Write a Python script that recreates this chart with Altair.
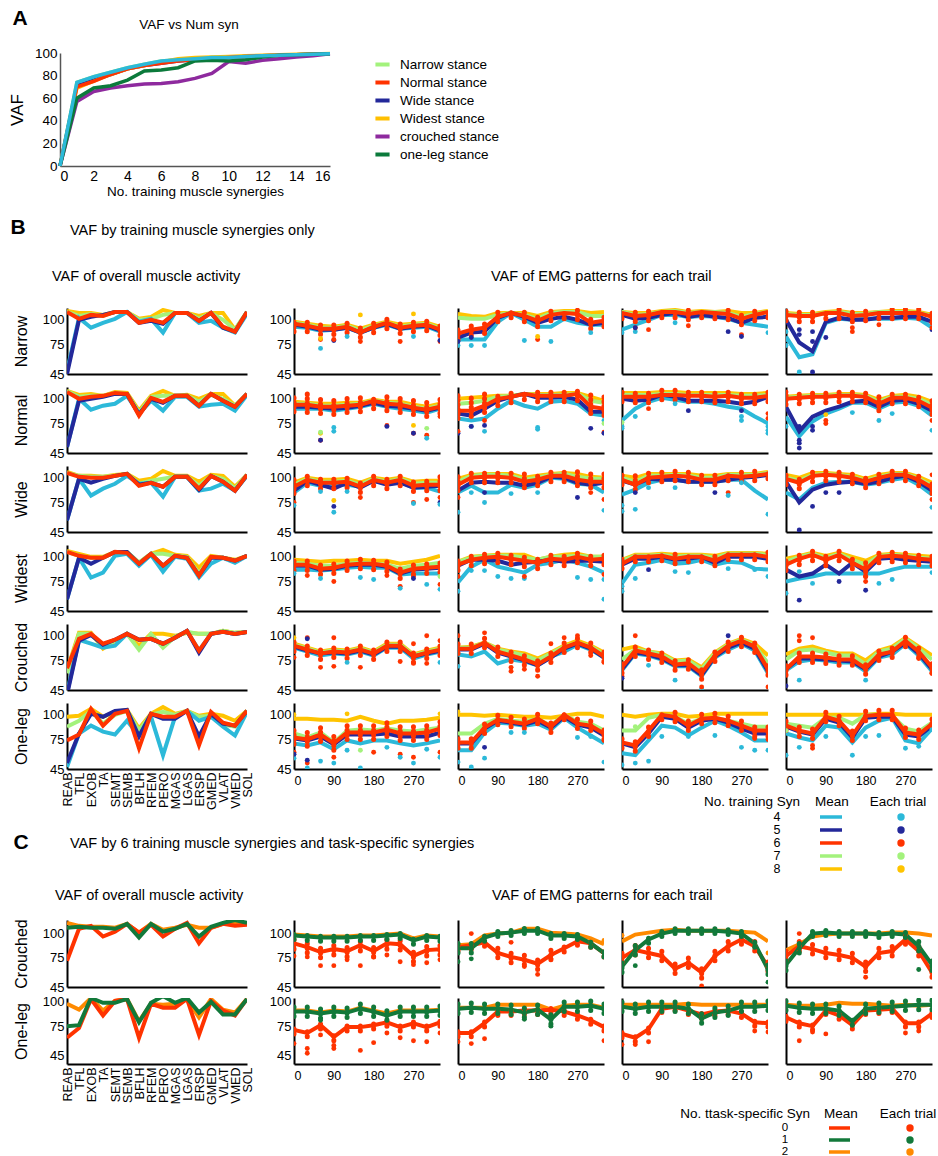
import altair as alt
import pandas as pd

FONT = "Liberation Sans"

# ---------------- shared categories ----------------
MUSCLES = ["REAB", "TFL", "EXOB", "TA", "SEMT", "SEMB", "BFLH", "RFEM",
           "PERO", "MGAS", "LGAS", "ERSP", "GMED", "VLAT", "VMED", "SOL"]
DIRS = [0, 30, 60, 90, 120, 150, 180, 210, 240, 270, 300, 330]
DIR_TICKS = [0, 90, 180, 270]
VAF_TICKS = [45, 75, 100]
STANCES = ["Narrow", "Normal", "Wide", "Widest", "Crouched", "One-leg"]
TASK_STANCES = ["Crouched", "One-leg"]

TRAIN_SYN = [4, 5, 6, 7, 8]
TRAIN_COLORS = {4: "#2cb9d9", 5: "#23289a", 6: "#ff3300", 7: "#a3f27c", 8: "#ffc400"}
TRAIN_DRAW = [8, 7, 4, 5, 6]
TASK_SYN = [0, 1, 2]
TASK_COLORS = {0: "#ff3300", 1: "#12793a", 2: "#ff8a00"}
TASK_DRAW = [2, 0, 1]

# ---------------- panel A ----------------
A_NSYN = list(range(17))
A_STANCES = ["Narrow stance", "Normal stance", "Wide stance", "Widest stance",
             "crouched stance", "one-leg stance"]
A_COLORS = ["#a3f27c", "#ff3300", "#23289a", "#ffbf00", "#8e2a9e", "#0b7a3b"]
A_DRAW = ["Narrow stance", "Wide stance", "Widest stance", "Normal stance",
          "crouched stance", "one-leg stance"]
A_VAF = {
    "Narrow stance":  [0, 74, 79, 83, 87, 90, 93, 94, 95, 96, 96, 97, 97.6, 98, 98.5, 99, 99.4],
    "Normal stance":  [0, 70, 75, 81, 86, 89, 91, 93, 94, 95, 96, 97, 97.5, 98, 98.5, 99, 99.4],
    "Wide stance":    [0, 71, 76, 81, 86, 89, 91, 93, 94, 95, 96, 97, 97.5, 98, 98.5, 99, 99.4],
    "Widest stance":  [0, 69, 75, 81, 86, 89, 92, 95, 96, 96.5, 97, 97.5, 98, 98.5, 99, 99.2, 99.5],
    "crouched stance": [0, 57, 66, 69, 71, 72.5, 73, 74.5, 77.5, 82, 92.5, 91, 93.5, 95, 96.5, 97.6, 99.4],
    "one-leg stance": [0, 60, 69, 71, 76, 84, 85, 87, 93, 93.5, 93, 94, 96.5, 98, 98.5, 99, 99.4],
}
A_OVERLAY_COLOR = "#2cb9d9"

# ---------------- panel B: overall muscle activity (per muscle) ----------------
B_OVERALL = {
    "Narrow": {
        4: [48, 102, 92, 97, 101, 108, 98, 101, 87, 107, 107, 97, 99, 92, 87, 106],
        5: [45, 100, 103, 105, 108, 108, 97, 99, 96, 107, 107, 99, 107, 92, 88, 108],
        6: [108, 101, 105, 104, 108, 108, 97, 100, 97, 107, 107, 99, 107, 93, 88, 108],
        7: [108, 104, 106, 104, 108, 108, 100, 101, 105, 107, 107, 101, 107, 100, 90, 108],
        8: [109, 107, 107, 105, 108, 108, 101, 103, 110, 107, 107, 104, 107, 107, 90, 108]},
    "Normal": {
        4: [51, 100, 89, 93, 95, 103, 85, 98, 88, 102, 102, 92, 94, 95, 88, 104],
        5: [51, 98, 100, 102, 105, 105, 84, 100, 96, 103, 103, 93, 105, 98, 92, 105],
        6: [107, 100, 102, 103, 106, 105, 83, 101, 97, 103, 103, 93, 105, 98, 92, 105],
        7: [108, 102, 103, 103, 106, 105, 86, 102, 103, 103, 103, 97, 104, 100, 93, 105],
        8: [108, 104, 105, 103, 107, 106, 88, 103, 108, 103, 104, 100, 105, 105, 93, 105]},
    "Wide": {
        4: [57, 99, 82, 89, 94, 102, 94, 95, 81, 101, 101, 87, 89, 94, 87, 102],
        5: [57, 99, 95, 99, 102, 104, 93, 95, 91, 101, 101, 88, 102, 96, 87, 103],
        6: [105, 101, 100, 100, 102, 104, 92, 95, 91, 101, 101, 89, 102, 96, 87, 103],
        7: [105, 102, 101, 101, 102, 104, 94, 97, 99, 101, 101, 92, 102, 99, 89, 103],
        8: [106, 102, 102, 101, 103, 104, 97, 99, 107, 102, 102, 96, 103, 102, 91, 103]},
    "Widest": {
        4: [57, 99, 79, 84, 101, 103, 91, 102, 85, 100, 98, 79, 93, 99, 94, 101],
        5: [57, 99, 93, 99, 105, 105, 93, 103, 91, 101, 99, 81, 99, 99, 96, 101],
        6: [105, 101, 99, 99, 105, 104, 93, 103, 91, 101, 99, 81, 100, 99, 96, 101],
        7: [105, 101, 99, 99, 105, 105, 94, 103, 103, 101, 100, 83, 100, 99, 96, 101],
        8: [106, 103, 100, 100, 105, 105, 94, 103, 107, 102, 101, 89, 101, 99, 97, 101]},
    "Crouched": {
        4: [42, 96, 92, 88, 90, 102, 96, 97, 92, 98, 105, 85, 102, 104, 102, 104],
        5: [40, 95, 101, 91, 96, 102, 96, 97, 92, 98, 105, 83, 102, 104, 102, 104],
        6: [67, 97, 102, 92, 96, 102, 96, 97, 92, 98, 105, 85, 102, 104, 102, 104],
        7: [62, 102, 102, 89, 95, 102, 86, 102, 88, 99, 104, 102, 102, 105, 103, 104],
        8: [65, 103, 103, 87, 95, 102, 90, 102, 102, 100, 103, 102, 102, 105, 103, 104]},
    "One-leg": {
        4: [47, 81, 89, 83, 80, 94, 79, 98, 59, 98, 104, 94, 98, 88, 79, 103],
        5: [51, 81, 101, 98, 104, 105, 78, 101, 96, 96, 104, 78, 101, 91, 89, 104],
        6: [74, 80, 106, 89, 101, 104, 66, 101, 98, 98, 104, 69, 103, 92, 89, 104],
        7: [88, 94, 104, 91, 100, 104, 84, 100, 103, 100, 104, 98, 99, 90, 88, 104],
        8: [98, 99, 106, 98, 103, 105, 86, 101, 108, 101, 104, 99, 101, 99, 94, 104]},
}

# ---------------- panel B: EMG patterns per direction (4 panels per stance) ----------------
B_EMG = {
    "Narrow": [
        {4: [93, 92, 89, 90, 92, 87, 92, 95, 91, 92, 93, 88],
         5: [95, 93, 90, 90, 92, 87, 92, 96, 91, 93, 94, 89],
         6: [96, 94, 91, 91, 93, 87, 93, 97, 92, 94, 95, 90],
         7: [97, 95, 92, 92, 94, 89, 94, 97, 93, 95, 96, 91],
         8: [98, 96, 94, 93, 95, 91, 95, 98, 95, 96, 97, 93]},
        {4: [80, 80, 80, 98, 107, 100, 93, 93, 101, 97, 95, 95],
         5: [82, 87, 88, 102, 107, 103, 97, 101, 103, 100, 95, 97],
         6: [86, 90, 92, 103, 107, 104, 99, 105, 107, 106, 97, 99],
         7: [102, 101, 101, 105, 107, 105, 101, 107, 108, 108, 104, 104],
         8: [106, 104, 103, 107, 107, 107, 104, 108, 109, 109, 107, 108]},
        {4: [90, 95, 100, 105, 105, 103, 104, 103, 101, 97, 95, 93],
         5: [105, 101, 102, 105, 107, 103, 105, 103, 102, 97, 102, 103],
         6: [107, 104, 105, 108, 108, 106, 108, 107, 106, 101, 105, 108],
         7: [108, 105, 106, 108, 109, 107, 108, 108, 107, 103, 106, 108],
         8: [108, 107, 107, 109, 110, 108, 109, 108, 109, 107, 107, 109]},
        {4: [83, 62, 65, 97, 101, 100, 101, 101, 101, 102, 101, 92],
         5: [100, 77, 68, 98, 102, 100, 100, 102, 102, 103, 103, 98],
         6: [105, 104, 104, 107, 107, 104, 105, 107, 107, 107, 107, 103],
         7: [106, 105, 105, 107, 108, 106, 106, 108, 108, 108, 107, 104],
         8: [107, 106, 106, 108, 109, 107, 107, 108, 109, 109, 108, 105]}],
    "Normal": [
        {4: [90, 90, 90, 88, 90, 92, 95, 92, 90, 88, 86, 90],
         5: [92, 92, 91, 90, 91, 93, 96, 93, 92, 90, 88, 91],
         6: [94, 94, 92, 92, 93, 94, 98, 95, 94, 91, 89, 92],
         7: [95, 95, 93, 93, 94, 95, 98, 96, 95, 92, 90, 93],
         8: [97, 96, 95, 95, 96, 96, 99, 97, 97, 94, 92, 95]},
        {4: [80, 78, 80, 90, 98, 93, 90, 97, 98, 95, 85, 83],
         5: [85, 83, 90, 98, 102, 105, 101, 101, 102, 99, 87, 87],
         6: [88, 88, 93, 100, 102, 105, 103, 103, 103, 105, 92, 90],
         7: [95, 96, 98, 102, 103, 105, 104, 104, 104, 105, 98, 96],
         8: [100, 101, 102, 103, 103, 105, 105, 105, 106, 106, 102, 98]},
        {4: [78, 90, 97, 101, 99, 97, 97, 95, 92, 90, 82, 75],
         5: [100, 98, 99, 104, 102, 98, 98, 98, 97, 95, 97, 102],
         6: [102, 102, 102, 104, 104, 103, 103, 102, 103, 101, 101, 103],
         7: [104, 104, 104, 105, 105, 104, 104, 104, 104, 103, 103, 104],
         8: [106, 106, 106, 107, 107, 106, 106, 106, 106, 105, 105, 106]},
        {4: [82, 62, 77, 85, 90, 96, 96, 90, 96, 97, 93, 83],
         5: [92, 67, 82, 88, 92, 97, 98, 92, 98, 99, 95, 88],
         6: [100, 101, 102, 102, 103, 103, 102, 95, 101, 101, 98, 91],
         7: [101, 102, 103, 103, 104, 104, 103, 97, 102, 102, 100, 94],
         8: [102, 103, 104, 104, 105, 105, 104, 99, 103, 104, 102, 97]}],
    "Wide": [
        {4: [85, 95, 92, 92, 93, 91, 97, 94, 96, 90, 90, 86],
         5: [87, 97, 93, 89, 95, 90, 97, 93, 95, 90, 91, 92],
         6: [91, 98, 95, 95, 96, 91, 98, 95, 98, 92, 93, 93],
         7: [93, 99, 96, 96, 97, 93, 99, 96, 99, 94, 95, 95],
         8: [95, 100, 98, 98, 99, 95, 100, 98, 100, 96, 97, 97]},
        {4: [85, 92, 85, 85, 93, 90, 93, 100, 99, 94, 93, 85],
         5: [87, 95, 96, 95, 95, 92, 95, 101, 100, 95, 93, 95],
         6: [93, 100, 101, 101, 100, 96, 98, 102, 102, 98, 96, 96],
         7: [96, 102, 103, 103, 102, 98, 100, 103, 104, 101, 99, 99],
         8: [99, 103, 104, 104, 104, 100, 102, 104, 105, 104, 101, 100]},
        {4: [83, 88, 95, 98, 98, 96, 96, 96, 98, 98, 87, 78],
         5: [97, 93, 99, 98, 98, 96, 96, 96, 98, 100, 101, 103],
         6: [98, 93, 100, 101, 102, 101, 98, 98, 102, 101, 102, 104],
         7: [100, 96, 102, 102, 103, 102, 100, 100, 103, 103, 103, 105],
         8: [102, 100, 104, 104, 104, 104, 102, 102, 104, 104, 104, 106]},
        {4: [85, 78, 90, 95, 96, 96, 93, 95, 98, 100, 93, 83],
         5: [96, 75, 88, 93, 95, 96, 94, 96, 100, 102, 96, 87],
         6: [99, 95, 102, 103, 102, 100, 96, 100, 103, 103, 98, 90],
         7: [100, 97, 103, 104, 103, 101, 97, 101, 104, 104, 99, 92],
         8: [103, 100, 105, 105, 104, 103, 99, 103, 105, 105, 101, 95]}],
    "Widest": [
        {4: [87, 87, 86, 87, 89, 90, 89, 89, 82, 83, 83, 83],
         5: [91, 91, 87, 88, 91, 92, 92, 90, 83, 87, 88, 89],
         6: [92, 92, 88, 89, 92, 93, 93, 91, 84, 88, 89, 90],
         7: [94, 93, 91, 91, 93, 94, 93, 92, 88, 91, 92, 94],
         8: [97, 96, 95, 96, 96, 97, 96, 96, 93, 95, 97, 101]},
        {4: [74, 90, 97, 90, 87, 84, 92, 94, 97, 94, 90, 84],
         5: [91, 97, 97, 96, 92, 94, 95, 97, 95, 96, 96, 95],
         6: [92, 97, 99, 100, 98, 96, 94, 98, 97, 100, 97, 98],
         7: [95, 99, 101, 101, 101, 99, 97, 100, 100, 101, 100, 100],
         8: [95, 100, 101, 102, 102, 102, 97, 100, 102, 103, 100, 100]},
        {4: [73, 92, 94, 97, 93, 94, 97, 92, 95, 94, 88, 87],
         5: [92, 98, 98, 100, 97, 98, 100, 94, 100, 100, 100, 98],
         6: [93, 100, 100, 101, 98, 100, 100, 96, 102, 102, 102, 100],
         7: [96, 101, 101, 102, 100, 101, 101, 99, 103, 103, 103, 102],
         8: [97, 102, 102, 103, 102, 102, 102, 101, 104, 104, 104, 103]},
        {4: [75, 78, 80, 83, 83, 83, 83, 83, 87, 90, 90, 90],
         5: [87, 80, 83, 92, 83, 94, 85, 98, 99, 97, 96, 95],
         6: [92, 98, 102, 97, 102, 94, 87, 100, 101, 100, 98, 97],
         7: [95, 100, 103, 99, 103, 97, 92, 101, 102, 101, 99, 98],
         8: [98, 101, 104, 101, 104, 100, 96, 102, 103, 102, 101, 100]}],
    "Crouched": [
        {4: [88, 84, 80, 82, 81, 84, 80, 88, 88, 77, 81, 84],
         5: [89, 85, 82, 83, 82, 85, 81, 89, 89, 79, 82, 85],
         6: [90, 86, 82, 84, 83, 86, 82, 90, 90, 79, 83, 86],
         7: [91, 87, 83, 85, 84, 87, 83, 91, 91, 80, 84, 87],
         8: [92, 88, 84, 86, 85, 88, 84, 92, 92, 81, 85, 88]},
        {4: [81, 79, 84, 72, 76, 74, 70, 79, 84, 91, 86, 78],
         5: [86, 86, 92, 83, 79, 75, 70, 78, 87, 92, 87, 78],
         6: [87, 87, 93, 84, 80, 76, 71, 79, 88, 93, 88, 79],
         7: [88, 88, 93, 86, 83, 80, 75, 82, 89, 93, 89, 81],
         8: [88, 89, 93, 87, 84, 82, 77, 83, 90, 95, 90, 83]},
        {4: [65, 82, 80, 76, 69, 69, 59, 78, 86, 92, 85, 62],
         5: [66, 83, 81, 77, 70, 70, 60, 79, 88, 93, 87, 64],
         6: [68, 85, 82, 79, 71, 72, 62, 80, 90, 95, 89, 66],
         7: [76, 86, 84, 81, 74, 75, 66, 82, 91, 96, 90, 72],
         8: [86, 89, 84, 82, 75, 76, 68, 83, 92, 97, 92, 80]},
        {4: [65, 74, 76, 75, 73, 73, 64, 78, 81, 92, 80, 64],
         5: [66, 77, 77, 76, 75, 74, 66, 79, 84, 93, 82, 66],
         6: [66, 79, 79, 78, 76, 76, 67, 81, 84, 95, 84, 68],
         7: [76, 85, 86, 83, 80, 80, 71, 84, 87, 97, 87, 76],
         8: [81, 87, 89, 85, 82, 82, 75, 85, 89, 98, 89, 80]}],
    "One-leg": [
        {4: [71, 69, 72, 65, 74, 71, 74, 74, 71, 69, 71, 74],
         5: [76, 74, 78, 70, 80, 80, 80, 81, 78, 78, 78, 82],
         6: [77, 75, 80, 71, 82, 82, 82, 85, 81, 81, 82, 86],
         7: [81, 77, 82, 72, 84, 85, 84, 86, 84, 83, 85, 87],
         8: [96, 96, 95, 95, 94, 98, 94, 91, 94, 94, 95, 97]},
        {4: [64, 64, 82, 92, 91, 89, 91, 85, 97, 87, 79, 71],
         5: [71, 71, 86, 94, 92, 90, 94, 87, 98, 90, 87, 79],
         6: [72, 72, 87, 95, 93, 91, 96, 88, 100, 91, 89, 81],
         7: [81, 81, 91, 96, 94, 93, 96, 89, 100, 93, 91, 84],
         8: [100, 100, 99, 100, 99, 98, 98, 97, 99, 101, 101, 98]},
        {4: [61, 59, 74, 89, 87, 79, 87, 94, 89, 82, 74, 74],
         5: [71, 67, 81, 98, 96, 87, 94, 96, 92, 86, 81, 81],
         6: [72, 69, 84, 100, 98, 89, 96, 97, 94, 89, 84, 84],
         7: [84, 84, 97, 100, 98, 91, 96, 97, 94, 91, 88, 88],
         8: [100, 98, 100, 101, 101, 98, 99, 101, 101, 101, 101, 101]},
        {4: [81, 77, 74, 89, 87, 72, 87, 94, 97, 74, 71, 86],
         5: [88, 83, 80, 96, 92, 77, 97, 98, 98, 80, 78, 89],
         6: [89, 84, 81, 98, 94, 79, 99, 100, 100, 82, 80, 91],
         7: [91, 89, 87, 97, 97, 91, 100, 100, 99, 86, 83, 92],
         8: [100, 100, 100, 100, 100, 100, 100, 101, 101, 100, 100, 100]}],
}

# range of the 6-synergy trials at each direction (lowest, highest)
B_TRIAL_LO = {
    "Narrow": [[88, 88, 85, 85, 87, 82, 87, 91, 86, 88, 89, 84],
               [80, 84, 86, 98, 102, 98, 93, 99, 101, 100, 91, 93],
               [101, 98, 99, 102, 102, 100, 102, 101, 100, 95, 99, 102],
               [99, 98, 98, 101, 101, 98, 99, 101, 101, 101, 101, 97]],
    "Normal": [[87, 86, 85, 84, 86, 87, 90, 88, 86, 84, 82, 85],
               [80, 82, 86, 93, 96, 99, 97, 97, 97, 98, 85, 83],
               [97, 96, 96, 99, 99, 97, 97, 96, 97, 95, 95, 97],
               [94, 95, 96, 96, 97, 97, 96, 88, 95, 95, 92, 84]],
    "Wide": [[84, 92, 89, 89, 90, 85, 92, 89, 92, 86, 87, 87],
             [87, 95, 95, 95, 95, 90, 92, 96, 96, 92, 90, 90],
             [93, 88, 95, 96, 97, 96, 93, 93, 97, 96, 97, 99],
             [93, 89, 96, 97, 96, 94, 90, 94, 97, 97, 92, 84]],
    "Widest": [[86, 86, 82, 83, 86, 88, 87, 85, 78, 82, 83, 84],
               [86, 91, 93, 94, 92, 90, 88, 92, 91, 94, 91, 92],
               [88, 95, 95, 96, 93, 95, 95, 91, 97, 97, 97, 95],
               [86, 92, 96, 91, 96, 88, 80, 94, 95, 94, 92, 91]],
    "Crouched": [[84, 80, 76, 78, 77, 80, 76, 84, 84, 73, 77, 80],
                 [82, 82, 88, 79, 74, 70, 65, 73, 83, 88, 83, 74],
                 [62, 79, 76, 73, 65, 66, 56, 74, 84, 89, 83, 60],
                 [60, 73, 73, 72, 70, 70, 61, 75, 78, 89, 78, 62]],
    "One-leg": [[70, 68, 73, 64, 75, 75, 75, 78, 74, 74, 75, 79],
                [66, 66, 81, 90, 88, 86, 91, 82, 95, 86, 84, 75],
                [66, 63, 78, 95, 93, 84, 91, 92, 89, 84, 78, 78],
                [84, 78, 76, 93, 89, 74, 94, 95, 95, 77, 75, 86]],
}
B_TRIAL_HI = {
    "Narrow": [[100, 99, 97, 97, 99, 93, 99, 102, 98, 100, 100, 96],
               [92, 96, 98, 108, 110, 109, 105, 110, 110, 110, 103, 105],
               [110, 110, 110, 111, 111, 110, 111, 110, 110, 107, 110, 111],
               [110, 110, 110, 110, 111, 110, 110, 110, 111, 111, 111, 109]],
    "Normal": [[102, 105, 101, 100, 101, 101, 103, 103, 101, 101, 98, 101],
               [103, 104, 105, 106, 107, 108, 108, 108, 108, 108, 106, 102],
               [108, 107, 108, 109, 109, 108, 108, 107, 108, 107, 107, 108],
               [107, 107, 108, 108, 108, 108, 108, 102, 107, 107, 105, 98]],
    "Wide": [[98, 103, 101, 102, 102, 97, 104, 101, 103, 99, 100, 103],
             [104, 106, 107, 107, 106, 104, 105, 107, 108, 107, 104, 104],
             [104, 102, 106, 106, 107, 106, 104, 104, 106, 106, 107, 108],
             [106, 102, 107, 108, 107, 106, 103, 106, 108, 108, 104, 97]],
    "Widest": [[98, 98, 95, 96, 98, 98, 98, 97, 91, 94, 95, 97],
               [99, 103, 104, 105, 104, 103, 100, 104, 104, 106, 104, 104],
               [98, 104, 104, 105, 103, 104, 104, 101, 106, 106, 106, 105],
               [98, 104, 106, 103, 106, 100, 94, 105, 106, 105, 104, 103]],
    "Crouched": [[97, 92, 88, 90, 89, 93, 88, 96, 96, 86, 90, 92],
                 [93, 93, 98, 90, 86, 82, 77, 85, 94, 98, 94, 85],
                 [74, 91, 88, 85, 77, 78, 68, 86, 96, 100, 95, 72],
                 [72, 85, 85, 84, 82, 82, 73, 87, 90, 101, 90, 74]],
    "One-leg": [[84, 82, 87, 78, 89, 89, 89, 92, 88, 88, 89, 93],
                [78, 78, 93, 100, 99, 97, 101, 94, 104, 97, 95, 87],
                [79, 75, 90, 104, 103, 95, 101, 102, 99, 94, 90, 90],
                [95, 90, 87, 104, 100, 85, 104, 105, 105, 88, 86, 97]],
}

# single trials lying away from the mean lines: (synergies, direction index, VAF)
B_TRIAL_OUT = {
    "Narrow": [
        [(4, 2, 71), (6, 2, 80), (8, 2, 81), (5, 3, 79), (6, 3, 80), (4, 4, 83), (6, 5, 78),
         (8, 5, 105), (6, 8, 78), (8, 9, 106), (4, 9, 83), (6, 11, 78), (5, 11, 79)],
        [(4, 0, 74), (4, 1, 74), (4, 2, 74), (4, 5, 79), (6, 6, 80), (8, 6, 83), (4, 7, 78),
         (4, 10, 87), (5, 0, 78), (5, 1, 82)],
        [(4, 0, 87), (4, 1, 88), (6, 1, 92), (5, 1, 92), (6, 2, 90), (4, 4, 97), (6, 5, 94),
         (5, 8, 88), (6, 9, 85), (5, 9, 83), (4, 11, 87)],
        [(4, 0, 74), (4, 0, 80), (4, 0, 88), (5, 1, 85), (5, 1, 90), (4, 1, 47), (5, 2, 47),
         (5, 2, 78), (5, 2, 88), (5, 3, 82), (6, 5, 88), (6, 5, 92), (6, 7, 95), (5, 11, 90),
         (6, 11, 92)]],
    "Normal": [
        [(8, 2, 65), (7, 2, 66), (6, 2, 58), (5, 2, 58), (4, 3, 67), (4, 3, 71), (6, 7, 73),
         (5, 7, 72), (8, 9, 73), (6, 9, 65), (5, 9, 65), (7, 10, 70), (6, 10, 63), (4, 10, 60),
         (6, 11, 82)],
        [(5, 0, 65), (6, 0, 67), (4, 1, 72), (5, 1, 72), (6, 2, 78), (4, 2, 67), (5, 2, 73),
         (4, 6, 69), (4, 6, 71), (5, 10, 70), (6, 11, 66), (5, 11, 65), (4, 11, 78), (7, 11, 75)],
        [(4, 0, 72), (4, 0, 70), (7, 0, 76), (4, 1, 82), (6, 2, 90), (4, 4, 95), (5, 5, 88),
         (4, 9, 82), (4, 9, 78), (5, 9, 88), (4, 11, 65), (4, 11, 68), (4, 11, 72), (6, 11, 85),
         (6, 11, 80)],
        [(4, 0, 72), (6, 0, 107), (5, 1, 50), (5, 1, 55), (5, 1, 58), (5, 1, 72), (5, 2, 72),
         (5, 2, 68), (6, 3, 78), (6, 3, 75), (8, 3, 84), (4, 5, 86), (4, 7, 78), (4, 8, 85),
         (6, 11, 78), (4, 11, 68)]],
    "Wide": [
        [(6, 0, 75), (4, 0, 72), (4, 2, 86), (5, 3, 71), (4, 3, 65), (8, 3, 77), (4, 4, 86),
         (6, 5, 80), (6, 9, 75), (4, 9, 74), (6, 10, 78), (5, 11, 75), (4, 11, 73), (6, 11, 80)],
        [(4, 0, 65), (6, 0, 80), (4, 1, 85), (4, 2, 75), (5, 2, 85), (4, 4, 84), (4, 6, 85),
         (5, 9, 80), (6, 10, 85), (4, 11, 67), (6, 11, 78)],
        [(4, 0, 72), (4, 0, 66), (4, 1, 68), (5, 1, 85), (4, 2, 90), (4, 4, 90), (5, 7, 85),
         (6, 8, 85), (4, 8, 82), (4, 11, 63), (4, 9, 95)],
        [(5, 1, 47), (5, 2, 71), (5, 3, 85), (5, 4, 85), (4, 11, 70), (6, 11, 78), (6, 11, 103)]],
    "Widest": [
        [(4, 0, 83), (6, 1, 81), (4, 2, 78), (6, 3, 75), (4, 5, 79), (4, 6, 77), (6, 7, 81),
         (6, 8, 70), (4, 8, 68), (6, 9, 80), (5, 9, 78), (4, 10, 72), (6, 11, 72), (4, 11, 67),
         (7, 11, 80)],
        [(4, 0, 65), (6, 0, 80), (4, 1, 86), (4, 2, 86), (4, 3, 80), (4, 4, 78), (4, 5, 78),
         (6, 5, 80), (4, 9, 79), (4, 10, 77), (4, 11, 57), (4, 11, 77), (6, 11, 82)],
        [(4, 0, 65), (4, 0, 70), (4, 1, 78), (5, 2, 87), (4, 4, 85), (4, 5, 84), (4, 8, 88),
         (4, 10, 87), (4, 11, 80)],
        [(4, 0, 63), (5, 1, 56), (4, 1, 85), (4, 2, 73), (5, 4, 75), (5, 6, 66), (6, 6, 75),
         (6, 6, 80), (4, 7, 73), (4, 8, 77), (4, 11, 84)]],
    "Crouched": [
        [(6, 0, 78), (8, 0, 98), (6, 1, 98), (5, 1, 97), (6, 2, 68), (6, 3, 69), (6, 3, 98),
         (4, 4, 73), (6, 5, 68), (6, 8, 74), (6, 9, 72), (6, 9, 92), (6, 10, 72), (6, 10, 100),
         (4, 11, 73), (6, 11, 95)],
        [(4, 0, 69), (6, 0, 100), (6, 2, 103), (6, 4, 64), (6, 4, 68), (6, 5, 66), (6, 6, 59),
         (6, 7, 92), (6, 8, 98), (6, 9, 100), (6, 10, 80), (6, 11, 73)],
        [(6, 0, 59), (5, 0, 57), (6, 1, 100), (4, 2, 70), (4, 4, 55), (4, 6, 46), (6, 6, 48),
         (5, 8, 100), (6, 11, 48)],
        [(5, 0, 49), (6, 1, 100), (6, 1, 95), (4, 1, 55), (6, 2, 98), (4, 6, 55), (6, 10, 77),
         (6, 11, 62)]],
    "One-leg": [
        [(4, 0, 56), (6, 0, 62), (5, 0, 60), (6, 1, 51), (4, 1, 46), (5, 1, 54), (4, 2, 53),
         (4, 3, 51), (6, 3, 57), (4, 4, 64), (4, 5, 46), (7, 5, 64), (6, 6, 62), (4, 7, 67),
         (6, 8, 60), (4, 8, 57), (4, 9, 51), (6, 9, 57), (4, 10, 65), (4, 11, 57), (6, 11, 62),
         (8, 0, 100), (8, 4, 101), (8, 11, 101)],
        [(4, 0, 52), (4, 1, 47), (4, 2, 56), (5, 2, 67), (4, 4, 82), (4, 5, 82), (4, 9, 77),
         (4, 10, 78), (4, 11, 52), (6, 11, 74), (8, 0, 103)],
        [(4, 0, 49), (4, 1, 51), (7, 1, 88), (4, 2, 53), (4, 3, 78), (4, 5, 78), (4, 7, 79),
         (4, 9, 67), (4, 10, 64), (4, 11, 64), (6, 10, 76), (6, 11, 75)],
        [(4, 0, 59), (4, 1, 67), (6, 2, 69), (6, 2, 66), (4, 3, 78), (4, 5, 59), (4, 6, 78),
         (4, 7, 79), (4, 9, 66), (4, 10, 68), (4, 11, 85), (7, 0, 84)]],
}

# ---------------- panel C ----------------
C_OVERALL = {
    "Crouched": {
        0: [72, 105, 108, 97, 102, 110, 101, 109, 97, 105, 111, 90, 106, 110, 108, 109],
        1: [106, 107, 106, 106, 105, 110, 96, 110, 102, 105, 110, 97, 107, 111, 114, 111],
        2: [111, 108, 107, 107, 106, 110, 101, 110, 104, 106, 109, 106, 106, 110, 111, 110]},
    "One-leg": {
        0: [63, 73, 103, 86, 101, 103, 63, 98, 94, 94, 103, 66, 101, 91, 86, 103],
        1: [75, 76, 104, 99, 99, 103, 79, 99, 106, 99, 104, 89, 100, 87, 87, 103],
        2: [98, 92, 104, 91, 101, 103, 80, 98, 97, 98, 103, 84, 103, 92, 89, 103]},
}
C_EMG = {
    "Crouched": [
        {0: [90, 86, 81, 84, 82, 88, 82, 90, 89, 77, 83, 84],
         1: [98, 97, 96, 96, 96, 97, 97, 98, 99, 93, 97, 96],
         2: [99, 98, 97, 97, 97, 98, 98, 99, 100, 95, 98, 97]},
        {0: [86, 88, 91, 80, 76, 73, 69, 78, 85, 92, 90, 80],
         1: [85, 85, 96, 100, 101, 103, 103, 98, 98, 97, 90, 80],
         2: [88, 89, 98, 100, 101, 105, 105, 101, 100, 99, 95, 89]},
        {0: [75, 83, 80, 77, 64, 70, 60, 77, 87, 94, 87, 66],
         1: [66, 83, 94, 100, 103, 103, 103, 103, 102, 100, 90, 63],
         2: [92, 99, 101, 103, 104, 103, 103, 103, 103, 102, 101, 92]},
        {0: [77, 87, 84, 80, 78, 75, 66, 80, 82, 94, 82, 60],
         1: [68, 85, 100, 101, 100, 100, 100, 99, 100, 99, 87, 68],
         2: [83, 89, 97, 99, 100, 100, 100, 100, 101, 101, 100, 98]}],
    "One-leg": [
        {0: [71, 68, 76, 64, 74, 74, 76, 79, 74, 78, 74, 79],
         1: [90, 90, 88, 90, 89, 93, 90, 86, 90, 90, 90, 91],
         2: [91, 91, 89, 91, 90, 94, 91, 88, 91, 91, 91, 92]},
        {0: [68, 68, 78, 90, 90, 91, 91, 92, 90, 86, 81, 74],
         1: [93, 94, 93, 93, 92, 89, 92, 82, 95, 95, 96, 93],
         2: [94, 94, 94, 97, 97, 97, 97, 92, 96, 97, 97, 94]},
        {0: [67, 63, 72, 93, 95, 91, 87, 90, 91, 88, 79, 78],
         1: [95, 93, 95, 95, 95, 93, 83, 89, 91, 95, 95, 96],
         2: [97, 97, 97, 97, 97, 98, 97, 97, 97, 97, 97, 97]},
        {0: [84, 78, 75, 91, 86, 76, 91, 92, 93, 78, 78, 88],
         1: [96, 94, 93, 93, 91, 80, 93, 94, 95, 96, 97, 97],
         2: [97, 96, 96, 97, 99, 98, 98, 97, 96, 97, 96, 97]}],
}
# trial ranges (low, high) for 0 and 1 task-specific synergies
C_TRIAL_RANGE = {
    "Crouched": [
        {0: ([84, 80, 75, 78, 76, 82, 76, 84, 83, 71, 77, 78], [95, 92, 87, 90, 88, 93, 88, 95, 94, 83, 89, 90]),
         1: ([94, 93, 92, 92, 92, 93, 93, 94, 95, 89, 93, 92], [101, 101, 100, 100, 100, 101, 101, 101, 102, 98, 101, 100])},
        {0: ([82, 84, 87, 75, 70, 68, 63, 73, 81, 88, 86, 76], [90, 92, 96, 85, 82, 78, 75, 83, 89, 96, 94, 84]),
         1: ([80, 80, 92, 97, 98, 100, 100, 95, 95, 94, 86, 76], [90, 90, 100, 103, 104, 106, 106, 101, 101, 100, 94, 84])},
        {0: ([70, 78, 75, 72, 59, 65, 54, 72, 82, 89, 82, 61], [80, 88, 85, 82, 70, 75, 66, 82, 92, 98, 92, 71]),
         1: ([60, 78, 90, 97, 100, 100, 100, 100, 99, 97, 86, 58], [72, 88, 98, 103, 105, 105, 105, 105, 104, 103, 94, 68])},
        {0: ([72, 82, 79, 75, 73, 70, 61, 75, 77, 89, 77, 55], [82, 92, 89, 85, 83, 80, 71, 85, 87, 99, 87, 65]),
         1: ([62, 80, 97, 98, 97, 97, 97, 96, 97, 96, 82, 62], [74, 90, 103, 104, 103, 103, 103, 102, 103, 102, 92, 74])}],
    "One-leg": [
        {0: ([67, 64, 72, 60, 70, 70, 72, 75, 70, 74, 70, 75], [75, 72, 80, 68, 78, 78, 80, 83, 78, 82, 78, 83]),
         1: ([85, 85, 83, 85, 84, 88, 85, 81, 85, 85, 85, 86], [96, 96, 94, 96, 95, 98, 96, 92, 96, 96, 96, 97])},
        {0: ([64, 64, 74, 86, 86, 87, 87, 88, 86, 82, 77, 70], [72, 72, 82, 94, 94, 95, 95, 96, 94, 90, 85, 78]),
         1: ([88, 89, 88, 88, 87, 84, 87, 77, 90, 90, 91, 88], [98, 99, 98, 98, 97, 94, 97, 87, 100, 100, 101, 98])},
        {0: ([63, 59, 68, 89, 91, 87, 83, 86, 87, 84, 75, 74], [71, 67, 76, 97, 99, 95, 91, 94, 95, 92, 83, 82]),
         1: ([90, 88, 90, 90, 90, 88, 78, 84, 86, 90, 90, 91], [100, 98, 100, 100, 100, 98, 88, 94, 96, 100, 100, 101])},
        {0: ([80, 74, 71, 87, 82, 72, 87, 88, 89, 74, 74, 84], [88, 82, 79, 95, 90, 80, 95, 96, 97, 82, 82, 92]),
         1: ([91, 89, 88, 88, 86, 76, 88, 89, 90, 91, 92, 92], [101, 99, 98, 98, 96, 85, 98, 99, 100, 101, 102, 102])}],
}
C_TRIAL_OUT = {
    "Crouched": [
        [(0, 0, 77), (0, 1, 76), (0, 2, 67), (0, 3, 67), (0, 4, 73), (0, 5, 67), (0, 6, 76),
         (0, 7, 78), (0, 8, 71), (0, 9, 68), (0, 10, 70), (0, 11, 73)],
        [(1, 0, 71), (1, 1, 74), (0, 1, 100), (0, 4, 91), (0, 5, 66), (0, 6, 58), (0, 7, 74),
         (2, 11, 93)],
        [(1, 1, 67), (1, 11, 50), (0, 6, 46), (2, 11, 80), (2, 0, 98)],
        [(0, 6, 55), (0, 1, 100), (1, 10, 63)]],
    "One-leg": [
        [(0, 0, 57), (0, 1, 52), (0, 1, 47), (0, 2, 66), (0, 3, 52), (0, 3, 55), (0, 5, 50),
         (0, 6, 58), (0, 7, 68), (0, 8, 63), (0, 9, 60), (0, 10, 59), (0, 11, 68), (1, 2, 81)],
        [(0, 0, 59), (0, 1, 57), (0, 2, 62), (0, 11, 60), (1, 7, 75), (1, 5, 82)],
        [(0, 0, 56), (0, 1, 56), (0, 2, 59), (0, 10, 70), (0, 11, 69)],
        [(0, 1, 60), (0, 2, 69), (0, 3, 67), (0, 9, 68), (0, 10, 70)]],
}

# ---------------- layout sizes ----------------
W0, WE, H = 180, 146, 66
COL_W = [7, W0, 47, WE, 17.5, WE, 17.5, WE, 17.5, WE]
B_YDOM = [45, 112]
C_YDOM = {"Crouched": [45, 114], "One-leg": [36, 104]}
C_H = {"Crouched": 67, "One-leg": 66}
LINE_W = 4

ONE = pd.DataFrame({"v": [0]})


def text(txt, x, y, size=14, weight="normal", align="left"):
    return alt.Chart(ONE).mark_text(text=txt, fontSize=size, fontWeight=weight, align=align,
                                    baseline="middle", color="black").encode(
        x=alt.value(x), y=alt.value(y))


def spacer(w, h):
    return alt.Chart(ONE).mark_point(opacity=0).encode(
        x=alt.value(0), y=alt.value(0)).properties(width=w, height=h)


def y_axis(show, title=None):
    return alt.Axis(values=VAF_TICKS, labels=show, ticks=False, grid=False, domainColor="black",
                    domainWidth=2, labelFontSize=13, labelPadding=3, labelColor="black",
                    title=title, titleFontSize=16, titleFontWeight="normal", titlePadding=13,
                    titleColor="black")


def color_scale(order, cmap, prefix):
    keys = [f"{prefix}{i}_{s}" for i, s in enumerate(order)]
    return {s: k for s, k in zip(order, keys)}, alt.Scale(domain=keys, range=[cmap[s] for s in order])


def overall_panel(series, order, cmap, prefix, ydom, h, ytitle, show_x):
    keys, cs = color_scale(order, cmap, prefix)
    df = pd.DataFrame([{"m": m, "y": v, "k": keys[s]}
                       for s in order for m, v in zip(MUSCLES, series[s])])
    x = alt.X("m:N", sort=MUSCLES, scale=alt.Scale(padding=0),
              axis=alt.Axis(labels=show_x, labelAngle=-90, ticks=False, grid=False,
                            domainColor="black", domainWidth=2, labelFontSize=12.5,
                            labelPadding=3, labelColor="black", title=None))
    y = alt.Y("y:Q", scale=alt.Scale(domain=ydom, nice=False, zero=False), axis=y_axis(True, ytitle))
    return alt.Chart(df).mark_line(strokeWidth=LINE_W, clip=True).encode(
        x=x, y=y, color=alt.Color("k:N", scale=cs, legend=None)).properties(width=W0, height=h)


def emg_panel(series, order, cmap, prefix, ranges, outs, ydom, h, show_y, show_x):
    keys, cs = color_scale(order, cmap, prefix)
    color = alt.Color("k:N", scale=cs, legend=None)
    x = alt.X("x:Q", scale=alt.Scale(domain=[0, 330], nice=False, zero=False),
              axis=alt.Axis(values=DIR_TICKS, labels=show_x, ticks=False, grid=False,
                            domainColor="black", domainWidth=2, labelFontSize=12.5,
                            labelPadding=5, labelColor="black", title=None))
    yscale = alt.Scale(domain=ydom, nice=False, zero=False)
    ldf = pd.DataFrame([{"x": d, "y": v, "k": keys[s]}
                        for s in order for d, v in zip(DIRS, series[s])])
    layers = [alt.Chart(ldf).mark_line(strokeWidth=LINE_W, clip=True).encode(
        x=x, y=alt.Y("y:Q", scale=yscale, axis=y_axis(show_y)), color=color)]
    rrows = []
    for s, (lo, hi) in ranges:
        for d, a, b in zip(DIRS, lo, hi):
            rrows.append({"x": d, "y": a, "y2": b, "k": keys[s]})
    # the trials at one direction form a chain of dots between their lowest and highest value
    layers.append(alt.Chart(pd.DataFrame(rrows)).mark_rule(
        strokeWidth=5, strokeCap="round", strokeDash=[0.5, 4], clip=True).encode(
        x=x, y=alt.Y("y:Q", scale=yscale, axis=y_axis(show_y)), y2="y2:Q", color=color))
    odf = pd.DataFrame([{"x": DIRS[j], "y": v, "k": keys[s]} for s, j, v in outs])
    layers.append(alt.Chart(odf).mark_circle(size=24, opacity=1, clip=True).encode(
        x=x, y=alt.Y("y:Q", scale=yscale, axis=y_axis(show_y)), color=color))
    return alt.layer(*layers).properties(width=WE, height=h)


def grid_row(panels, h):
    """panels: [col0 chart, emg1..emg4]; spacer cells fill the gap columns."""
    cells = [spacer(COL_W[0], h), panels[0]]
    for i, p in enumerate(panels[1:]):
        cells.append(spacer(COL_W[2 + 2 * i], h))
        cells.append(p)
    return cells


def gap_row(h):
    return [spacer(w, h) for w in COL_W]


def content_row(chart, h):
    return [chart] + [spacer(w, h) for w in COL_W[1:]]


# ---------------- panel A chart ----------------
a_df = pd.DataFrame([{"n": n, "vaf": v, "stance": s}
                     for s in A_DRAW for n, v in zip(A_NSYN, A_VAF[s])])
ax = alt.X("n:Q", scale=alt.Scale(domain=[0, 16], nice=False),
           axis=alt.Axis(values=list(range(0, 17, 2)), ticks=False, grid=False, domainColor="#555",
                         domainWidth=1.5, labelFontSize=14, labelPadding=3, labelColor="black",
                         title="No. training muscle synergies", titleFontSize=13.5,
                         titleFontWeight="normal", titlePadding=1, titleColor="black"))
ay = alt.Y("vaf:Q", scale=alt.Scale(domain=[0, 100], nice=False),
           axis=alt.Axis(values=[0, 20, 40, 60, 80, 100], ticks=False, grid=False, domainColor="#555",
                         domainWidth=1.5, labelFontSize=13.5, labelPadding=3, labelColor="black",
                         title="VAF", titleFontSize=17, titleFontWeight="normal", titlePadding=8,
                         titleColor="black"))
a_lines = alt.Chart(a_df).mark_line(strokeWidth=3.5).encode(
    x=ax, y=ay,
    color=alt.Color("stance:N", scale=alt.Scale(domain=A_STANCES, range=A_COLORS),
                    legend=alt.Legend(orient="none", legendX=313, legendY=2, title=None,
                                      symbolType="stroke", symbolStrokeWidth=4, symbolSize=200,
                                      labelFontSize=13.5, labelOffset=8, rowPadding=0,
                                      padding=0, labelColor="black")))
a_overlay = alt.Chart(a_df[a_df["stance"] == "Narrow stance"]).mark_line(
    strokeWidth=3.5, color=A_OVERLAY_COLOR).encode(x=ax, y=ay)
# white anchor marking the page's top-left corner (keeps the layout origin fixed)
anchor = alt.Chart(ONE).mark_square(size=4, color="white", opacity=1).encode(
    x=alt.value(-59), y=alt.value(-52))
chart_A = alt.layer(
    anchor, a_lines, a_overlay,
    text("A", -40, -34, size=21, weight="bold", align="center"),
    text("VAF vs Num syn", 129, -28, size=13.5, align="center"),
).properties(width=270, height=113)

# ---------------- panel B header ----------------
header_B = alt.layer(
    text("B", -42, 62, size=21, weight="bold", align="center"),
    text("VAF by training muscle synergies only", 10, 65, size=14.5),
    text("VAF of overall muscle activity", -8, 111, size=14.5),
    text("VAF of EMG patterns for each trail", 431, 111, size=14.5),
).properties(width=COL_W[0], height=142)

cells = content_row(header_B, 142)

for r, st in enumerate(STANCES):
    last = r == len(STANCES) - 1
    c0 = overall_panel(B_OVERALL[st], TRAIN_DRAW, TRAIN_COLORS, "b", B_YDOM, H, st, last)
    emgs = [emg_panel(B_EMG[st][c], TRAIN_DRAW, TRAIN_COLORS, "b",
                      [(6, (B_TRIAL_LO[st][c], B_TRIAL_HI[st][c]))], B_TRIAL_OUT[st][c],
                      B_YDOM, H, c == 0, last) for c in range(4)]
    if r > 0:
        cells += gap_row(12.8)
    cells += grid_row([c0] + emgs, H)

# ---------------- middle band: legend of B + header of C ----------------
leg_b = pd.DataFrame({"lab": [str(s) for s in TRAIN_SYN]})
leg_b_scale = alt.Scale(domain=[str(s) for s in TRAIN_SYN], range=[TRAIN_COLORS[s] for s in TRAIN_SYN])
ly_b = alt.Y("lab:O", sort=[str(s) for s in TRAIN_SYN],
             scale=alt.Scale(type="point", range=[48, 100], padding=0), axis=None)
mid_band = alt.layer(
    alt.Chart(leg_b).mark_text(fontSize=12.5, align="center", baseline="middle", color="black").encode(
        x=alt.value(717), y=ly_b, text="lab:N"),
    alt.Chart(leg_b).mark_rule(strokeWidth=3.5).encode(
        x=alt.value(760), x2=alt.value(782), y=ly_b,
        color=alt.Color("lab:N", scale=leg_b_scale, legend=None)),
    alt.Chart(leg_b).mark_circle(size=55, opacity=1).encode(
        x=alt.value(841), y=ly_b, color=alt.Color("lab:N", scale=leg_b_scale, legend=None)),
    text("No. training Syn", 740, 33, size=13.5, align="right"),
    text("Mean", 772, 33, size=13.5, align="center"),
    text("Each trial", 838, 33, size=13.5, align="center"),
    text("C", -39, 74, size=21, weight="bold", align="center"),
    text("VAF by 6 training muscle synergies and task-specific synergies", 10, 75, size=14.5),
    text("VAF of overall muscle activity", -5, 127, size=14.5),
    text("VAF of EMG patterns for each trail", 432, 127, size=14.5),
).properties(width=COL_W[0], height=151)
cells += content_row(mid_band, 151)

# ---------------- panel C ----------------
for r, st in enumerate(TASK_STANCES):
    last = r == len(TASK_STANCES) - 1
    c0 = overall_panel(C_OVERALL[st], TASK_DRAW, TASK_COLORS, "c", C_YDOM[st], C_H[st], st, last)
    emgs = [emg_panel(C_EMG[st][c], TASK_DRAW, TASK_COLORS, "c",
                      [(0, C_TRIAL_RANGE[st][c][0]), (1, C_TRIAL_RANGE[st][c][1])],
                      C_TRIAL_OUT[st][c], C_YDOM[st], C_H[st], c == 0, last) for c in range(4)]
    if r > 0:
        cells += gap_row(11)
    cells += grid_row([c0] + emgs, C_H[st])

leg_c = pd.DataFrame({"lab": [str(s) for s in TASK_SYN]})
leg_c_scale = alt.Scale(domain=[str(s) for s in TASK_SYN], range=[TASK_COLORS[s] for s in TASK_SYN])
ly_c = alt.Y("lab:O", sort=[str(s) for s in TASK_SYN],
             scale=alt.Scale(type="point", range=[64, 88], padding=0), axis=None)
legend_C = alt.layer(
    alt.Chart(leg_c).mark_text(fontSize=11.5, align="center", baseline="middle", color="black").encode(
        x=alt.value(725), y=ly_c, text="lab:N"),
    alt.Chart(leg_c).mark_rule(strokeWidth=3.5).encode(
        x=alt.value(769), x2=alt.value(790), y=ly_c,
        color=alt.Color("lab:N", scale=leg_c_scale, legend=None)),
    alt.Chart(leg_c).mark_circle(size=55, opacity=1).encode(
        x=alt.value(850), y=ly_c, color=alt.Color("lab:N", scale=leg_c_scale, legend=None)),
    text("No. ttask-specific Syn", 750, 50, size=13.5, align="right"),
    text("Mean", 781, 50, size=13.5, align="center"),
    text("Each trial", 848, 50, size=13.5, align="center"),
).properties(width=COL_W[0], height=93)
cells += content_row(legend_C, 93)

grid = alt.concat(*cells, columns=len(COL_W), spacing=0, bounds="flush", align="each").resolve_scale(
    color="independent", x="independent", y="independent")

chart = alt.vconcat(chart_A, grid, spacing=0, bounds="flush").resolve_scale(
    color="independent", x="independent", y="independent").properties(
    padding=0,
    background="white",
).configure(font=FONT).configure_view(stroke=None)

chart.save("out.html", embed_options={"renderer": "svg", "actions": False})
